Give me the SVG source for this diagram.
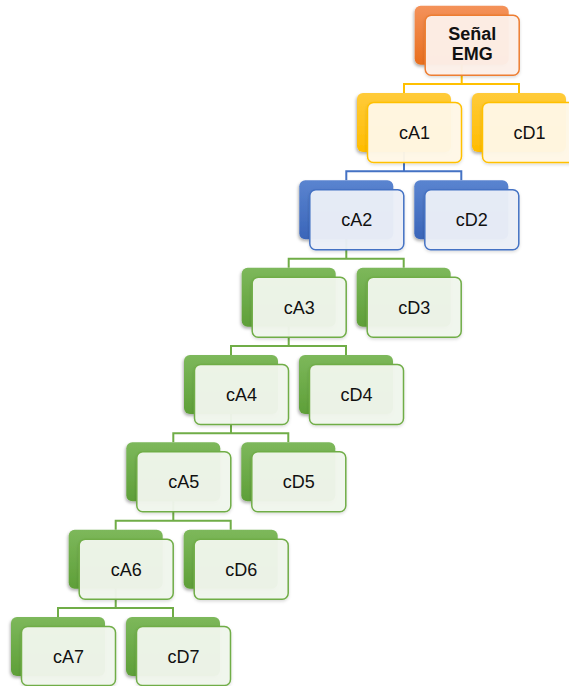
<svg xmlns="http://www.w3.org/2000/svg" width="569" height="686" viewBox="0 0 569 686">
  <defs>
    <linearGradient id="gOrange" x1="0" y1="0" x2="0" y2="1">
      <stop offset="0" stop-color="#F4925A"/>
      <stop offset="1" stop-color="#E86E1E"/>
    </linearGradient>
    <linearGradient id="gYellow" x1="0" y1="0" x2="0" y2="1">
      <stop offset="0" stop-color="#FFCB3A"/>
      <stop offset="1" stop-color="#FFBC00"/>
    </linearGradient>
    <linearGradient id="gBlue" x1="0" y1="0" x2="0" y2="1">
      <stop offset="0" stop-color="#5A84D0"/>
      <stop offset="1" stop-color="#3A65B9"/>
    </linearGradient>
    <linearGradient id="gGreen" x1="0" y1="0" x2="0" y2="1">
      <stop offset="0" stop-color="#7DB85B"/>
      <stop offset="1" stop-color="#5E9F38"/>
    </linearGradient>
    <filter id="shadow" x="-20%" y="-20%" width="140%" height="150%">
      <feDropShadow dx="-1" dy="2" stdDeviation="1.8" flood-color="#000" flood-opacity="0.3"/>
    </filter>
    <filter id="soft" x="-20%" y="-20%" width="140%" height="150%">
      <feDropShadow dx="0" dy="1.5" stdDeviation="1.5" flood-color="#000" flood-opacity="0.15"/>
    </filter>
  </defs>
  <style>
    .back { filter: url(#shadow); }
    .front { stroke-width: 1.5; fill-opacity: 0.96; filter: url(#soft); }
    .lbl { font-family: "Liberation Sans", Arial, sans-serif; font-size: 18px; fill: #111; text-anchor: middle; }
    .bold { font-weight: bold; }
    .orange .back { fill: url(#gOrange); }
    .orange .front { fill: #FDF0E9; stroke: #ED7D31; }
    .yellow .back { fill: url(#gYellow); }
    .yellow .front { fill: #FFF8E6; stroke: #FFC000; }
    .blue .back { fill: url(#gBlue); }
    .blue .front { fill: #EBEFF8; stroke: #4472C4; }
    .green .back { fill: url(#gGreen); }
    .green .front { fill: #F0F6EC; stroke: #70AD47; }
    .conn { fill: none; stroke-width: 2; }
  </style>

  <!-- connectors: parent stem, horizontal bus, child drops -->
  <g id="connectors">
    <path class="conn" stroke="#FFC000" d="M461.7 35 V84 M404 93 V84 H519 V93"/>
    <path class="conn" stroke="#4472C4" d="M404 122 V171.3 M346.3 180.3 V171.3 H461.3 V180.3"/>
    <path class="conn" stroke="#70AD47" d="M346.3 210 V258.7 M288.7 267.7 V258.7 H403.7 V267.7"/>
    <path class="conn" stroke="#70AD47" d="M288.7 297 V346 M231 355 V346 H346 V355"/>
    <path class="conn" stroke="#70AD47" d="M231 385 V433.3 M173.3 442.3 V433.3 H288.3 V442.3"/>
    <path class="conn" stroke="#70AD47" d="M173.3 472 V520.7 M115.7 529.7 V520.7 H230.7 V529.7"/>
    <path class="conn" stroke="#70AD47" d="M115.7 559 V608 M58 617 V608 H173 V617"/>
  </g>

  <!-- root -->
  <g id="senal-emg" class="orange">
    <rect class="back" x="414.7" y="5.7" width="94" height="59" rx="6"/>
    <rect class="front" x="425.2" y="15.2" width="94" height="60" rx="6"/>
    <text class="lbl bold" x="472.2" y="40">Señal</text>
    <text class="lbl bold" x="472.2" y="59.5">EMG</text>
  </g>

  <!-- level 1 -->
  <g id="cA1" class="yellow">
    <rect class="back" x="357" y="93" width="94" height="59" rx="6"/>
    <rect class="front" x="367.5" y="102.5" width="94" height="60" rx="6"/>
    <text class="lbl" x="414.5" y="139">cA1</text>
  </g>
  <g id="cD1" class="yellow">
    <rect class="back" x="472" y="93" width="94" height="59" rx="6"/>
    <rect class="front" x="482.5" y="102.5" width="94" height="60" rx="6"/>
    <text class="lbl" x="529.5" y="139">cD1</text>
  </g>

  <!-- level 2 -->
  <g id="cA2" class="blue">
    <rect class="back" x="299.3" y="180.3" width="94" height="59" rx="6"/>
    <rect class="front" x="309.8" y="189.8" width="94" height="60" rx="6"/>
    <text class="lbl" x="356.8" y="226.3">cA2</text>
  </g>
  <g id="cD2" class="blue">
    <rect class="back" x="414.3" y="180.3" width="94" height="59" rx="6"/>
    <rect class="front" x="424.8" y="189.8" width="94" height="60" rx="6"/>
    <text class="lbl" x="471.8" y="226.3">cD2</text>
  </g>

  <!-- level 3 -->
  <g id="cA3" class="green">
    <rect class="back" x="241.7" y="267.7" width="94" height="59" rx="6"/>
    <rect class="front" x="252.2" y="277.2" width="94" height="60" rx="6"/>
    <text class="lbl" x="299.2" y="313.7">cA3</text>
  </g>
  <g id="cD3" class="green">
    <rect class="back" x="356.7" y="267.7" width="94" height="59" rx="6"/>
    <rect class="front" x="367.2" y="277.2" width="94" height="60" rx="6"/>
    <text class="lbl" x="414.2" y="313.7">cD3</text>
  </g>

  <!-- level 4 -->
  <g id="cA4" class="green">
    <rect class="back" x="184" y="355" width="94" height="59" rx="6"/>
    <rect class="front" x="194.5" y="364.5" width="94" height="60" rx="6"/>
    <text class="lbl" x="241.5" y="401">cA4</text>
  </g>
  <g id="cD4" class="green">
    <rect class="back" x="299" y="355" width="94" height="59" rx="6"/>
    <rect class="front" x="309.5" y="364.5" width="94" height="60" rx="6"/>
    <text class="lbl" x="356.5" y="401">cD4</text>
  </g>

  <!-- level 5 -->
  <g id="cA5" class="green">
    <rect class="back" x="126.3" y="442.3" width="94" height="59" rx="6"/>
    <rect class="front" x="136.8" y="451.8" width="94" height="60" rx="6"/>
    <text class="lbl" x="183.8" y="488.3">cA5</text>
  </g>
  <g id="cD5" class="green">
    <rect class="back" x="241.3" y="442.3" width="94" height="59" rx="6"/>
    <rect class="front" x="251.8" y="451.8" width="94" height="60" rx="6"/>
    <text class="lbl" x="298.8" y="488.3">cD5</text>
  </g>

  <!-- level 6 -->
  <g id="cA6" class="green">
    <rect class="back" x="68.7" y="529.7" width="94" height="59" rx="6"/>
    <rect class="front" x="79.2" y="539.2" width="94" height="60" rx="6"/>
    <text class="lbl" x="126.2" y="575.7">cA6</text>
  </g>
  <g id="cD6" class="green">
    <rect class="back" x="183.7" y="529.7" width="94" height="59" rx="6"/>
    <rect class="front" x="194.2" y="539.2" width="94" height="60" rx="6"/>
    <text class="lbl" x="241.2" y="575.7">cD6</text>
  </g>

  <!-- level 7 -->
  <g id="cA7" class="green">
    <rect class="back" x="11" y="617" width="94" height="59" rx="6"/>
    <rect class="front" x="21.5" y="626.5" width="94" height="59" rx="6"/>
    <text class="lbl" x="68.5" y="663">cA7</text>
  </g>
  <g id="cD7" class="green">
    <rect class="back" x="126" y="617" width="94" height="59" rx="6"/>
    <rect class="front" x="136.5" y="626.5" width="94" height="59" rx="6"/>
    <text class="lbl" x="183.5" y="663">cD7</text>
  </g>
</svg>
